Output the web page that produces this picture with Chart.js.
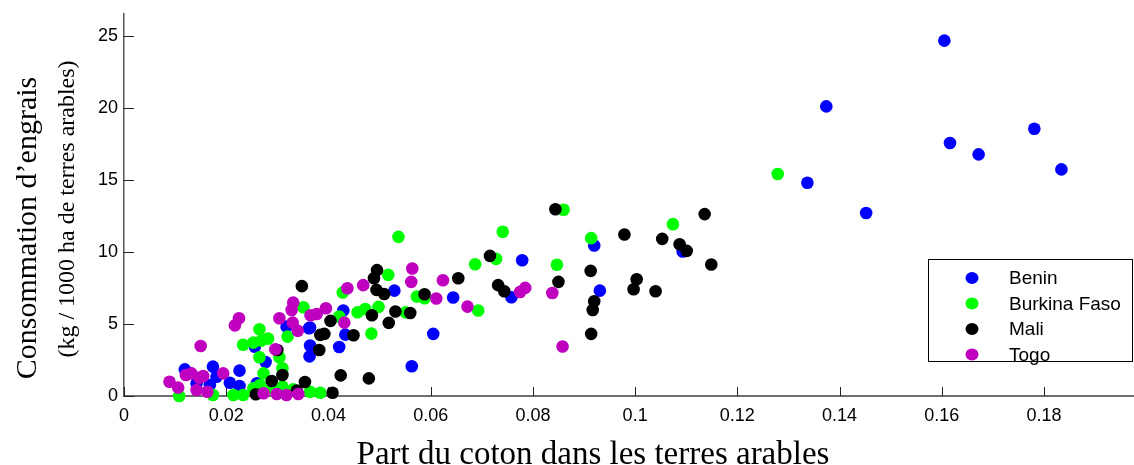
<!DOCTYPE html>
<html>
<head>
<meta charset="utf-8">
<script src="https://cdn.jsdelivr.net/npm/chart.js@4/dist/chart.umd.min.js"></script>
<style>
  html, body { margin: 0; padding: 0; background: #fff; overflow: hidden; }
  #wrap { width: 1134px; height: 465px; position: relative; }
  canvas { display: block; }
</style>
</head>
<body>
<div id="wrap"><canvas id="chart"></canvas></div>
<script>
// données (part du coton, kg / 1000 ha)
const seriesNames = ['Benin', 'Burkina Faso', 'Mali', 'Togo'];
const seriesColors = ['#0000ff', '#00ff00', '#000000', '#bf00bf'];

const benin = [
    [0.1605, 24.65], [0.1374, 20.09], [0.1781, 18.54], [0.1616, 17.55], [0.1672, 16.76],
    [0.1834, 15.72], [0.1337, 14.79], [0.1452, 12.69], [0.092, 10.44], [0.1093, 10.02],
    [0.0779, 9.42], [0.0931, 7.31], [0.0758, 6.85], [0.0644, 6.83], [0.0529, 7.31],
    [0.0429, 5.93], [0.0605, 4.31], [0.0433, 4.26], [0.0364, 4.75], [0.0318, 4.81],
    [0.0362, 4.7], [0.0364, 3.5], [0.0421, 3.4], [0.0363, 2.75], [0.0563, 2.06],
    [0.0256, 3.42], [0.0277, 2.36], [0.0119, 1.85], [0.0174, 2.04], [0.0226, 1.76],
    [0.0181, 1.34], [0.0142, 0.87], [0.0168, 0.76], [0.0207, 0.92], [0.0226, 0.69],
    [0.026, 0.88]
];
const burkina = [
    [0.1279, 15.4], [0.086, 12.92], [0.0741, 11.39], [0.1074, 11.92], [0.0914, 10.95],
    [0.0537, 11.04], [0.0728, 9.51], [0.0687, 9.14], [0.0847, 9.1], [0.0517, 8.4],
    [0.0428, 7.18], [0.0573, 6.9], [0.0588, 6.78], [0.0693, 5.93], [0.0551, 5.8],
    [0.0498, 6.18], [0.0472, 6.04], [0.0457, 5.81], [0.0421, 5.51], [0.0351, 6.16],
    [0.0484, 4.33], [0.0265, 4.63], [0.032, 4.12], [0.0282, 3.98], [0.0269, 3.84],
    [0.0253, 3.7], [0.0233, 3.56], [0.0304, 2.69], [0.0265, 2.69], [0.031, 1.92],
    [0.0273, 1.57], [0.0108, 0.0], [0.0174, 0.07], [0.0214, 0.07], [0.0233, 0.07],
    [0.0253, 0.53], [0.0266, 0.76], [0.0289, 0.53], [0.031, 0.65], [0.0331, 0.46],
    [0.0364, 0.3], [0.0384, 0.23]
];
const mali = [
    [0.0844, 12.96], [0.1136, 12.62], [0.0979, 11.2], [0.1053, 10.9], [0.1087, 10.53],
    [0.1101, 10.07], [0.1149, 9.12], [0.0716, 9.72], [0.0913, 8.68], [0.085, 7.92],
    [0.1003, 8.1], [0.0997, 7.41], [0.104, 7.27], [0.0732, 7.69], [0.0744, 7.27],
    [0.092, 6.57], [0.0917, 5.97], [0.0914, 4.31], [0.0495, 8.73], [0.0489, 8.17],
    [0.0654, 8.17], [0.0494, 7.36], [0.0509, 7.08], [0.0348, 7.62], [0.0588, 7.06],
    [0.0531, 5.86], [0.056, 5.76], [0.0485, 5.6], [0.0518, 5.07], [0.0404, 5.21],
    [0.0392, 4.31], [0.0384, 4.24], [0.0449, 4.21], [0.0382, 3.19], [0.03, 3.19],
    [0.0424, 1.43], [0.0479, 1.22], [0.0354, 0.97], [0.031, 1.46], [0.0289, 1.04],
    [0.0408, 0.23], [0.0258, 0.12], [0.0338, 0.37]
];
const togo = [
    [0.0785, 7.5], [0.0775, 7.22], [0.0838, 7.15], [0.0858, 3.43], [0.0564, 8.84],
    [0.0562, 7.92], [0.0624, 8.03], [0.0468, 7.69], [0.0437, 7.48], [0.0611, 6.76],
    [0.0672, 6.2], [0.0395, 6.09], [0.0377, 5.69], [0.0365, 5.6], [0.0431, 5.09],
    [0.0331, 6.48], [0.0328, 5.97], [0.0304, 5.39], [0.033, 5.09], [0.034, 4.53],
    [0.0225, 5.39], [0.0217, 4.9], [0.015, 3.47], [0.0296, 3.24], [0.0194, 1.57],
    [0.0121, 1.46], [0.0132, 1.57], [0.0155, 1.39], [0.0147, 1.27], [0.0089, 0.99],
    [0.0106, 0.58], [0.0142, 0.42], [0.0163, 0.3], [0.0299, 0.14], [0.0318, 0.07],
    [0.0341, 0.14], [0.0273, 0.19]
];

const xTicks = [0, 0.02, 0.04, 0.06, 0.08, 0.1, 0.12, 0.14, 0.16, 0.18];
const yTicks = [0, 5, 10, 15, 20, 25];
const xTitle = 'Part du coton dans les terres arables';
const yTitle = ['Consommation d\u2019engrais', '(kg / 1000 ha de terres arables)'];

const allSeries = [benin, burkina, mali, togo];

// petites marques de graduation vers l'intérieur
const innerTicks = {
    id: 'innerTicks',
    beforeDatasetsDraw(chart) {
        const { ctx, chartArea, scales } = chart;
        ctx.save();
        ctx.strokeStyle = '#222';
        ctx.lineWidth = 1;
        ctx.beginPath();
        xTicks.forEach(v => {
            const x = Math.round(scales.x.getPixelForValue(v)) + 0.5;
            ctx.moveTo(x, chartArea.bottom);
            ctx.lineTo(x, chartArea.bottom - 9);
        });
        yTicks.forEach(v => {
            const y = Math.round(scales.y.getPixelForValue(v)) + 0.5;
            ctx.moveTo(chartArea.left, y);
            ctx.lineTo(chartArea.left + 10, y);
        });
        ctx.stroke();
        ctx.restore();
    }
};

// titres des axes et légende encadrée
const titlesAndLegend = {
    id: 'titlesAndLegend',
    afterDraw(chart) {
        const { ctx } = chart;
        ctx.save();
        ctx.fillStyle = '#000';
        ctx.textAlign = 'center';
        ctx.textBaseline = 'middle';

        ctx.font = '33px "Liberation Serif", "Times New Roman", serif';
        ctx.fillText(xTitle, 593, 455);

        ctx.save();
        ctx.translate(28, 228);
        ctx.rotate(-Math.PI / 2);
        ctx.font = '30px "Liberation Serif", "Times New Roman", serif';
        ctx.fillText(yTitle[0], 0, 0);
        ctx.restore();

        ctx.save();
        ctx.translate(68, 209);
        ctx.rotate(-Math.PI / 2);
        ctx.font = '24px "Liberation Serif", "Times New Roman", serif';
        ctx.fillText(yTitle[1], 0, 0);
        ctx.restore();

        // légende
        const bx = 928.5, by = 259.5, bw = 204, bh = 102;
        ctx.fillStyle = '#fff';
        ctx.fillRect(bx, by, bw, bh);
        ctx.strokeStyle = '#000';
        ctx.lineWidth = 1;
        ctx.strokeRect(bx, by, bw, bh);
        ctx.textAlign = 'left';
        ctx.font = '19px "Liberation Sans", Arial, sans-serif';
        chart.data.datasets.forEach((ds, i) => {
            const y = 278 + i * 25.5;
            ctx.fillStyle = ds.backgroundColor;
            ctx.beginPath();
            ctx.ellipse(972, y, 6.5, 6, 0, 0, Math.PI * 2);
            ctx.fill();
            ctx.fillStyle = '#000';
            ctx.fillText(ds.label, 1009, y + 1);
        });
        ctx.restore();
    }
};

const datasets = allSeries.map((pts, i) => ({
    label: seriesNames[i],
    data: pts.map(p => ({ x: p[0], y: p[1] })),
    backgroundColor: seriesColors[i],
    borderColor: seriesColors[i],
    borderWidth: 0,
    pointRadius: 6.3,
    pointHoverRadius: 6.3,
    order: 3 - i,
    clip: false
}));

new Chart(document.getElementById('chart'), {
    type: 'scatter',
    data: { datasets },
    options: {
        responsive: true,
        maintainAspectRatio: false,
        animation: false,
        layout: { autoPadding: false, padding: { top: 14, right: 0, left: 0, bottom: 0 } },
        plugins: {
            legend: { display: false },
            tooltip: { enabled: false }
        },
        scales: {
            x: {
                type: 'linear',
                min: 0,
                max: 0.1976,
                afterFit: s => { s.height = 69; s.paddingLeft = 0; s.paddingRight = 0; },
                afterBuildTicks: s => { s.ticks = xTicks.map(v => ({ value: v })); },
                grid: { drawOnChartArea: false, drawTicks: false },
                border: { display: true, color: '#6e6e6e', width: 2 },
                ticks: {
                    padding: 9,
                    color: '#000',
                    font: { family: '"Liberation Sans", Arial, sans-serif', size: 18 },
                    callback: v => String(+v.toFixed(2))
                }
            },
            y: {
                type: 'linear',
                min: 0,
                max: 26.5,
                afterFit: s => { s.width = 124; s.paddingTop = 0; s.paddingBottom = 0; },
                afterBuildTicks: s => { s.ticks = yTicks.map(v => ({ value: v })); },
                grid: { drawOnChartArea: false, drawTicks: false },
                border: { display: true, color: '#555', width: 1.5 },
                ticks: {
                    padding: 6,
                    color: '#000',
                    font: { family: '"Liberation Sans", Arial, sans-serif', size: 18 }
                }
            }
        }
    },
    plugins: [innerTicks, titlesAndLegend]
});
</script>
</body>
</html>
